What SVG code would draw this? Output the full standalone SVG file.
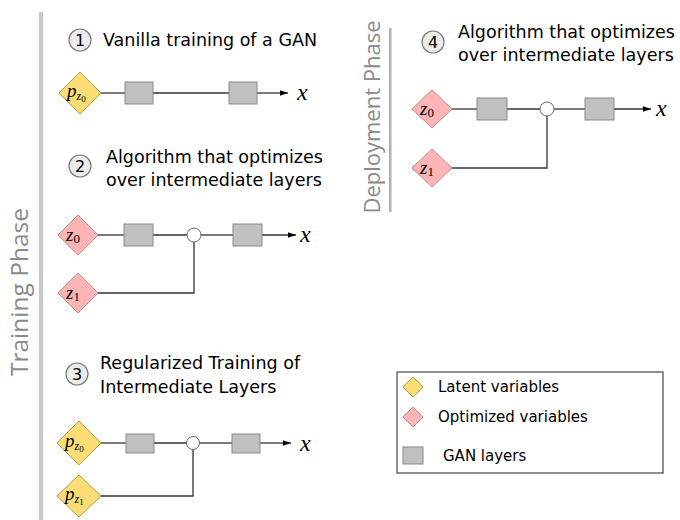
<svg xmlns="http://www.w3.org/2000/svg" width="680" height="520" viewBox="0 0 680 520">
  <style>
    .title { font-family: "DejaVu Sans", sans-serif; font-size: 17.5px; fill: #000; }
    .phase { font-family: "Open Sans", "DejaVu Sans", sans-serif; fill: #8a8a8a; }
    .num { font-family: "DejaVu Sans", sans-serif; font-size: 16px; fill: #000; text-anchor: middle; }
    .badge { fill: #ececec; stroke: #7a7a7a; stroke-width: 1.2; }
    .latent { fill: #fcdc74; stroke: #b89a48; stroke-width: 1; }
    .opt { fill: #fdb4b4; stroke: #c88a8a; stroke-width: 1; }
    .layer { fill: #c0c0c0; stroke: #8a8a8a; stroke-width: 1; }
    .junction { fill: #fff; stroke: #666; stroke-width: 1; }
    .wire { fill: none; stroke: #333; stroke-width: 1.3; }
    .math { font-family: "Liberation Serif", "DejaVu Serif", serif; font-style: italic; fill: #000; }
    .legend { font-family: "DejaVu Sans", sans-serif; font-size: 15px; fill: #000; }
  </style>
  <defs>
    <marker id="arrow" viewBox="0 0 10 10" refX="10" refY="5" markerWidth="8" markerHeight="8" markerUnits="userSpaceOnUse" orient="auto">
      <path d="M0,1.5 L10,5 L0,8.5 z" fill="#000"/>
    </marker>
  </defs>

  <!-- phase separators -->
  <rect x="39" y="12" width="4" height="508" fill="#c4cac4"/>
  <rect x="389" y="28" width="2.5" height="184" fill="#b0b0b0"/>
  <text class="phase" font-size="24.5" transform="translate(28,292) rotate(-90)" text-anchor="middle">Training Phase</text>
  <text class="phase" font-size="22" transform="translate(380,117) rotate(-90)" text-anchor="middle">Deployment Phase</text>

  <!-- connectors -->
  <g id="connectors">
    <!-- 1 -->
    <line class="wire" x1="101" y1="93" x2="125" y2="93"/>
    <line class="wire" x1="153" y1="93" x2="229" y2="93" stroke="#000" stroke-width="1.8"/>
    <line class="wire" x1="257" y1="93" x2="288" y2="93" marker-end="url(#arrow)"/>
    <!-- 2 -->
    <line class="wire" x1="98" y1="235" x2="124" y2="235"/>
    <line class="wire" x1="153" y1="235" x2="187" y2="235"/>
    <line class="wire" x1="201" y1="235" x2="233" y2="235"/>
    <line class="wire" x1="262" y1="235" x2="296" y2="235" marker-end="url(#arrow)"/>
    <polyline class="wire" points="98,293 194,293 194,242"/>
    <!-- 3 -->
    <line class="wire" x1="101" y1="443" x2="126" y2="443"/>
    <line class="wire" x1="154" y1="443" x2="187" y2="443"/>
    <line class="wire" x1="200" y1="443" x2="232" y2="443"/>
    <line class="wire" x1="260" y1="443" x2="291" y2="443" marker-end="url(#arrow)"/>
    <polyline class="wire" points="101,496 193,496 193,450"/>
    <!-- 4 -->
    <line class="wire" x1="452" y1="109" x2="477" y2="109"/>
    <line class="wire" x1="507" y1="109" x2="540" y2="109"/>
    <line class="wire" x1="554" y1="109" x2="585" y2="109"/>
    <line class="wire" x1="614" y1="109" x2="651" y2="109" marker-end="url(#arrow)"/>
    <polyline class="wire" points="452,168 547,168 547,116"/>
  </g>

  <!-- section 1 -->
  <g id="s1-title">
    <circle class="badge" cx="80" cy="40" r="11"/>
    <text class="num" x="80" y="46">1</text>
    <text class="title" x="103" y="46">Vanilla training of a GAN</text>
  </g>
  <g id="s1-pz0">
    <polygon class="latent" points="80,72 101,93 80,114 59,93"/>
    <text class="math" x="67" y="97" font-size="19">p<tspan font-size="12" dy="3">z</tspan><tspan font-size="9" dy="2" font-style="normal">0</tspan></text>
  </g>
  <g id="s1-layer1"><rect class="layer" x="125" y="82" width="28" height="22"/></g>
  <g id="s1-layer2"><rect class="layer" x="229" y="82" width="28" height="22"/></g>
  <g id="s1-x"><text class="math" x="297" y="100" font-size="24">x</text></g>

  <!-- section 2 -->
  <g id="s2-title">
    <circle class="badge" cx="80" cy="166" r="11"/>
    <text class="num" x="80" y="172">2</text>
    <text class="title" x="106" y="163">Algorithm that optimizes</text>
    <text class="title" x="106" y="186">over intermediate layers</text>
  </g>
  <g id="s2-z0">
    <polygon class="opt" points="78,215 98,235 78,255 58,235"/>
    <text class="math" x="66" y="241" font-size="19">z<tspan font-size="13" dy="2" font-style="normal">0</tspan></text>
  </g>
  <g id="s2-z1">
    <polygon class="opt" points="78,273 98,293 78,313 58,293"/>
    <text class="math" x="66" y="299" font-size="19">z<tspan font-size="13" dy="2" font-style="normal">1</tspan></text>
  </g>
  <g id="s2-layer1"><rect class="layer" x="124" y="224" width="29" height="22"/></g>
  <g id="s2-merge"><circle class="junction" cx="194" cy="235" r="7"/></g>
  <g id="s2-layer2"><rect class="layer" x="233" y="224" width="29" height="22"/></g>
  <g id="s2-x"><text class="math" x="300" y="242" font-size="24">x</text></g>

  <!-- section 3 -->
  <g id="s3-title">
    <circle class="badge" cx="77" cy="374" r="11"/>
    <text class="num" x="77" y="380">3</text>
    <text class="title" x="100" y="369">Regularized Training of</text>
    <text class="title" x="100" y="393">Intermediate Layers</text>
  </g>
  <g id="s3-pz0">
    <polygon class="latent" points="79,421 101,443 79,465 57,443"/>
    <text class="math" x="65" y="447" font-size="19">p<tspan font-size="12" dy="3">z</tspan><tspan font-size="9" dy="2" font-style="normal">0</tspan></text>
  </g>
  <g id="s3-pz1">
    <polygon class="latent" points="79,475 101,496 79,517 57,496"/>
    <text class="math" x="65" y="500" font-size="19">p<tspan font-size="12" dy="3">z</tspan><tspan font-size="9" dy="2" font-style="normal">1</tspan></text>
  </g>
  <g id="s3-layer1"><rect class="layer" x="126" y="434" width="28" height="19"/></g>
  <g id="s3-merge"><circle class="junction" cx="193" cy="443" r="6.5"/></g>
  <g id="s3-layer2"><rect class="layer" x="232" y="434" width="28" height="19"/></g>
  <g id="s3-x"><text class="math" x="300" y="451" font-size="24">x</text></g>

  <!-- section 4 -->
  <g id="s4-title">
    <circle class="badge" cx="433" cy="42" r="11"/>
    <text class="num" x="433" y="48">4</text>
    <text class="title" x="458" y="38">Algorithm that optimizes</text>
    <text class="title" x="458" y="61">over intermediate layers</text>
  </g>
  <g id="s4-z0">
    <polygon class="opt" points="432,90 452,109 432,128 412,109"/>
    <text class="math" x="420" y="115" font-size="19">z<tspan font-size="13" dy="2" font-style="normal">0</tspan></text>
  </g>
  <g id="s4-z1">
    <polygon class="opt" points="432,149 452,168 432,187 412,168"/>
    <text class="math" x="420" y="174" font-size="19">z<tspan font-size="13" dy="2" font-style="normal">1</tspan></text>
  </g>
  <g id="s4-layer1"><rect class="layer" x="477" y="98" width="30" height="22"/></g>
  <g id="s4-merge"><circle class="junction" cx="547" cy="109" r="7"/></g>
  <g id="s4-layer2"><rect class="layer" x="585" y="98" width="29" height="22"/></g>
  <g id="s4-x"><text class="math" x="656" y="116" font-size="24">x</text></g>

  <!-- legend -->
  <g id="legend">
    <rect x="397" y="372" width="266" height="101" fill="#fff" stroke="#555" stroke-width="1.3"/>
    <polygon class="latent" points="413,377 423,387 413,397 403,387"/>
    <text class="legend" x="438" y="392">Latent variables</text>
    <polygon class="opt" points="413,407 423,417 413,427 403,417"/>
    <text class="legend" x="438" y="422">Optimized variables</text>
    <rect class="layer" x="403" y="447" width="20" height="17"/>
    <text class="legend" x="443" y="461">GAN layers</text>
  </g>
</svg>
